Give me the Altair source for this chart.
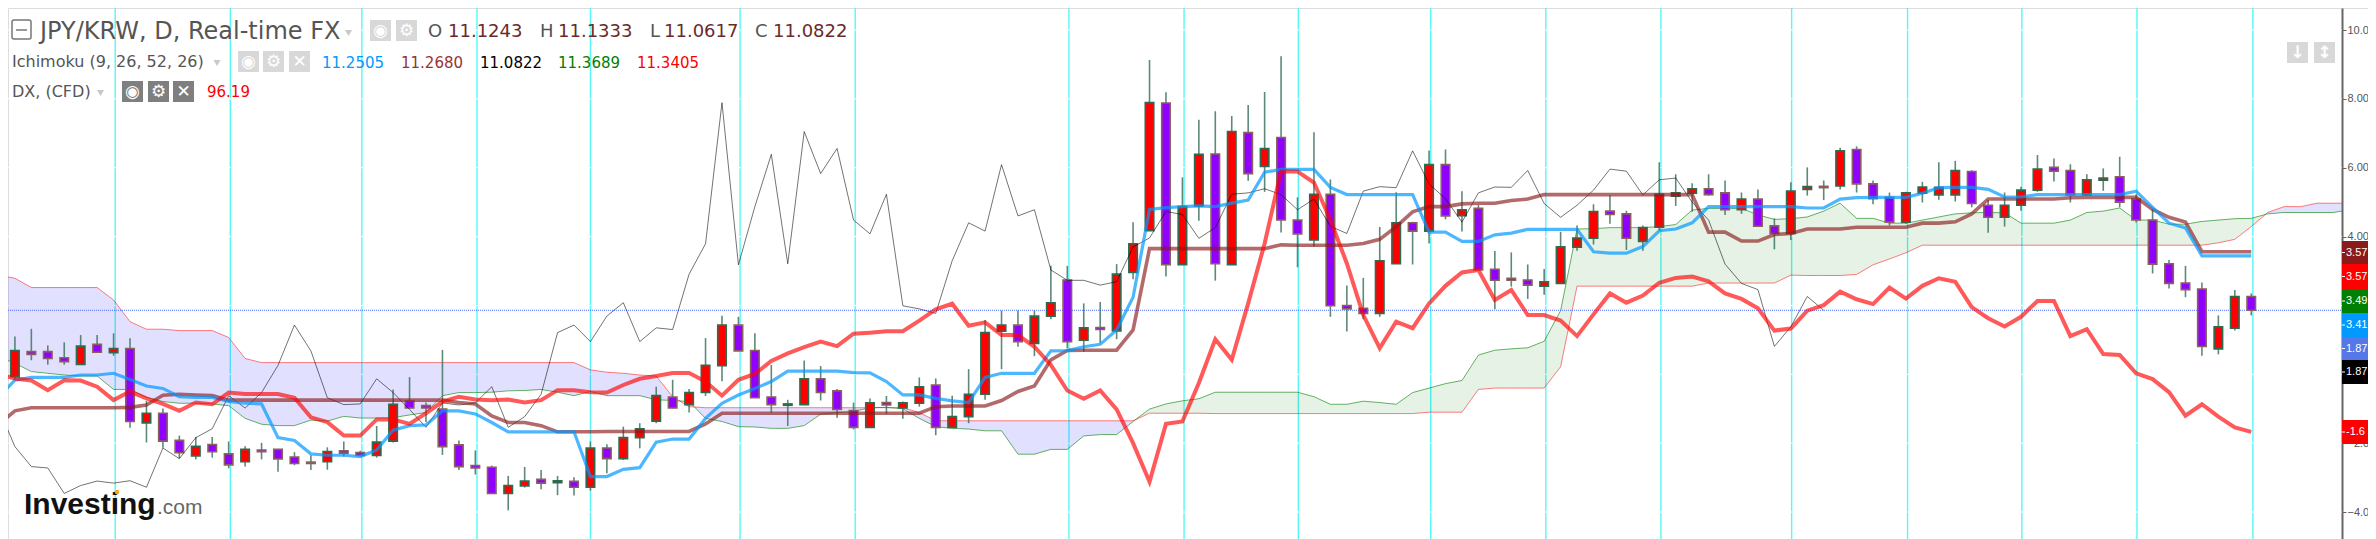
import altair as alt
import pandas as pd

OPEN = [-.07,.66,.66,.48,.29,.87,.63,.75,-1.41,-1.13,
 -1.92,-2.37,-2.04,-2.31,-2.54,-2.20,-2.18,-2.40,-2.55,-2.54,
 -2.22,-2.27,-2.36,-1.94,-.78,-.91,-1.01,-2.05,-2.65,-2.70,
 -3.46,-3.24,-3.05,-3.15,-3.11,-3.28,-2.14,-2.45,-1.84,-1.36,
 -.66,-.88,-.53,.25,1.43,.69,-.66,-.90,-.88,-.13,
 -.48,-1.05,-1.54,-.82,-.98,-.84,-.31,-1.54,-1.23,-.58,
 1.25,1.43,.90,1.69,2.74,.99,1.36,1.26,2.96,4.17,
 7.88,3.18,4.89,6.40,3.18,7.02,6.04,6.88,4.48,3.90,
 5.23,2.00,1.92,1.77,3.21,4.40,4.16,6.09,4.61,4.82,
 3.05,2.79,2.74,2.56,2.64,3.69,3.95,4.74,4.66,3.86,
 4.27,5.17,5.26,5.39,5.27,4.78,5.09,4.31,4.09,5.37,
 5.46,5.47,6.53,5.53,5.14,4.42,5.26,5.21,5.21,5.89,
 4.91,4.56,4.91,5.35,6.01,5.92,5.21,5.64,5.74,5.09,
 4.48,3.21,2.65,2.48,.74,1.34,2.26]
HIGH = [1.10,1.32,.84,.93,1.14,1.14,1.19,1.05,-.77,-.99,
 -1.78,-1.82,-1.82,-1.95,-2.09,-1.99,-2.18,-2.26,-2.35,-2.12,
 -1.95,-2.22,-1.50,-.44,-.08,-.82,.71,-1.92,-2.21,-2.65,
 -2.95,-2.69,-2.78,-2.95,-2.99,-1.95,-2.03,-1.52,-1.42,-.36,
 -.16,-.43,1.05,1.70,1.67,1.19,.27,-.74,.40,.24,
 -.43,-.82,-.70,-.63,-.79,-.09,-.12,-.62,.15,1.58,
 1.85,1.85,1.85,3.15,3.15,2.06,2.10,3.20,4.42,9.13,
 8.19,5.72,7.39,7.64,7.50,7.82,8.20,9.24,5.14,7.03,
 5.66,2.58,2.80,4.28,5.29,4.43,6.50,6.53,5.32,4.92,
 3.58,3.54,3.19,3.06,4.14,4.32,4.94,5.19,4.75,4.32,
 6.16,5.81,5.55,5.81,5.63,5.28,5.37,4.53,5.58,6.01,
 5.63,6.58,6.62,5.63,5.28,5.30,5.59,6.16,6.20,5.93,
 5.06,5.28,5.45,6.37,6.27,6.10,5.81,5.98,6.32,5.23,
 4.79,3.32,3.15,2.67,1.71,2.45,2.35]
LOW = [-.17,.41,.28,.28,.28,.63,.54,-1.55,-1.98,-2.13,
 -2.44,-2.47,-2.42,-2.73,-2.68,-2.47,-2.83,-2.64,-2.78,-2.77,
 -2.39,-2.39,-2.42,-1.98,-.99,-1.39,-2.34,-2.78,-2.91,-3.46,
 -3.95,-3.29,-3.34,-3.51,-3.52,-3.38,-2.87,-2.49,-2.15,-1.42,
 -.99,-1.11,-.63,-.20,.68,-.68,-1.11,-1.50,-.89,-.76,
 -1.26,-1.60,-1.54,-1.15,-1.29,-.94,-1.77,-1.54,-1.42,-.74,
 .15,.80,.53,1.60,.76,.66,.90,1.02,2.76,4.17,
 2.84,3.18,4.46,2.72,3.18,5.62,5.30,4.12,3.11,3.71,
 1.67,1.24,1.60,1.67,3.21,3.19,3.80,4.50,4.15,3.03,
 1.89,2.55,2.19,2.31,2.64,3.59,3.77,4.37,3.61,3.59,
 4.17,4.89,4.72,5.19,4.63,4.66,4.29,3.63,3.90,5.19,
 5.06,5.37,5.28,4.94,4.32,4.37,4.99,5.07,5.02,4.85,
 4.11,4.29,4.75,5.30,5.60,4.99,5.18,5.33,4.85,4.41,
 2.93,2.49,2.24,.54,.58,1.27,1.71]
CLOSE = [.69,.58,.46,.37,.82,.64,.75,-1.37,-1.13,-1.94,
 -2.28,-2.09,-2.25,-2.63,-2.18,-2.25,-2.46,-2.59,-2.59,-2.24,
 -2.29,-2.36,-1.97,-.87,-.98,-.98,-2.10,-2.68,-2.72,-3.46,
 -3.23,-3.10,-3.16,-3.09,-3.28,-2.14,-2.45,-1.84,-1.58,-.62,
 -.98,-.53,.26,1.43,.68,-.68,-.88,-.86,-.13,-.53,
 -1.02,-1.54,-.83,-.89,-.83,-.36,-1.54,-1.23,-.58,1.21,
 1.43,.95,1.69,2.08,.95,1.35,1.30,2.91,3.79,7.89,
 3.18,4.87,6.39,3.21,7.05,5.83,6.56,4.48,4.08,5.23,
 1.99,1.90,1.77,3.30,4.40,4.16,6.09,4.60,4.78,3.03,
 2.73,2.73,2.59,2.69,3.70,3.96,4.73,4.64,3.95,4.26,
 5.23,5.27,5.39,5.22,4.78,5.09,4.30,4.09,5.32,5.45,
 5.42,6.49,5.53,5.10,4.42,5.27,5.44,5.43,5.92,4.96,
 4.56,4.91,5.35,5.96,5.90,5.21,5.65,5.70,5.00,4.48,
 3.20,2.64,2.46,.81,1.38,2.26,1.86]

# lines start one session before the first candle
TENKAN = [-.67,
 -.17,-.09,-.09,-.09,-.02,-.02,.03,-.15,-.34,-.41,
 -.65,-.67,-.67,-.79,-.84,-.86,-1.84,-1.92,-2.31,-2.35,
 -2.35,-2.39,-2.20,-1.62,-1.49,-1.47,-1.06,-1.06,-1.15,-1.40,
 -1.67,-1.67,-1.67,-1.67,-1.67,-2.97,-2.97,-2.76,-2.71,-1.97,
 -1.88,-1.88,-1.28,-.84,-.60,-.41,-.21,.09,.09,.09,
 .09,.05,.04,-.21,-.60,-.60,-.70,-.77,-.82,-.09,
 .03,.03,.03,.68,.69,.80,.87,1.29,2.24,4.79,
 4.84,4.87,4.89,4.87,4.97,5.06,5.87,5.95,5.95,5.95,
 5.43,5.22,5.22,5.22,5.22,5.22,4.13,4.13,3.86,3.86,
 4.05,4.10,4.21,4.21,4.21,4.21,3.56,3.52,3.52,3.71,
 4.17,4.22,4.40,4.87,4.87,4.87,4.87,4.87,4.87,4.83,
 4.83,5.09,5.13,5.14,5.14,5.14,5.26,5.42,5.43,5.43,
 5.37,5.15,5.15,5.22,5.22,5.22,5.22,5.22,5.22,5.32,
 4.85,4.39,4.25,3.44,3.44,3.44,3.44]
KIJUN = [-1.47,
 -1.06,-.97,-.97,-.97,-.97,-.97,-.97,-.96,-.89,-.61,
 -.58,-.60,-.62,-.75,-.75,-.75,-.75,-.75,-.75,-.75,
 -.75,-.75,-.75,-.75,-.75,-.75,-.75,-.82,-.86,-1.21,
 -1.40,-1.40,-1.49,-1.67,-1.67,-1.67,-1.66,-1.66,-1.66,-1.66,
 -1.66,-1.66,-1.44,-1.13,-1.13,-1.13,-1.13,-1.13,-1.13,-1.13,
 -1.13,-1.13,-1.13,-1.13,-1.13,-1.13,-.94,-.92,-.92,-.92,
 -.76,-.50,-.34,.42,.69,.70,.70,.70,1.29,3.65,
 3.65,3.65,3.65,3.65,3.65,3.65,3.65,3.76,3.75,3.75,
 3.75,3.75,3.80,3.92,4.29,4.72,4.87,4.87,4.95,4.97,
 4.97,5.05,5.09,5.22,5.22,5.22,5.22,5.22,5.22,5.22,
 5.22,5.22,5.22,4.13,4.13,3.87,3.87,4.06,4.09,4.22,
 4.22,4.22,4.27,4.27,4.27,4.27,4.39,4.39,4.43,4.66,
 5.09,5.09,5.09,5.09,5.09,5.13,5.14,5.14,5.14,5.14,
 4.79,4.56,4.42,3.56,3.56,3.56,3.56]
DX = [.01,
 -.12,-.18,-.46,-.17,-.18,-.36,-.75,-.50,-.70,-.86,
 -1.06,-.82,-.87,-.53,-.57,-.57,-.57,-.68,-1.25,-1.39,
 -1.78,-1.78,-1.31,-1.31,-1.44,-1.13,-.79,-.65,-.73,-.75,
 -.73,-.82,-.75,-.46,-.46,-.52,-.53,-.31,-.13,-.05,
 .04,.04,-.21,-.62,-.16,.01,.39,.61,.79,.95,
 .82,1.18,1.21,1.25,1.25,1.56,1.89,2.05,1.41,1.51,
 1.14,1.14,.80,.27,-.47,-.71,-.47,-1.02,-2.00,-3.12,
 -1.44,-1.37,-.25,1.02,.42,2.06,3.80,5.90,5.89,5.57,
 4.48,3.22,1.72,.76,1.53,1.34,2.06,2.57,2.96,3.03,
 2.16,2.45,1.72,1.72,1.56,1.11,1.74,2.35,2.08,2.29,
 2.66,2.80,2.84,2.70,2.35,2.19,1.92,1.27,1.33,1.85,
 2.01,2.40,2.18,2.04,2.52,2.20,2.57,2.79,2.69,1.95,
 1.63,1.39,1.67,2.13,2.13,1.11,1.31,.59,.56,.03,
 -.14,-.52,-1.20,-.87,-1.23,-1.54,-1.67]
CHIKOU = [-.98,
 -2.10,-2.68,-2.72,-3.46,-3.23,-3.10,-3.16,-3.09,-3.28,-2.14,
 -2.45,-1.84,-1.58,-.62,-.98,-.53,.26,1.43,.68,-.68,
 -.88,-.86,-.13,-.53,-1.02,-1.54,-.83,-.89,-.83,-.36,
 -1.54,-1.23,-.58,1.21,1.43,.95,1.69,2.08,.95,1.35,
 1.30,2.91,3.79,7.89,3.18,4.87,6.39,3.21,7.05,5.83,
 6.56,4.48,4.08,5.23,1.99,1.90,1.77,3.30,4.40,4.16,
 6.09,4.60,4.78,3.03,2.73,2.73,2.59,2.69,3.70,3.96,
 4.73,4.64,3.95,4.26,5.23,5.27,5.39,5.22,4.78,5.09,
 4.30,4.09,5.32,5.45,5.42,6.49,5.53,5.10,4.42,5.27,
 5.44,5.43,5.92,4.96,4.56,4.91,5.35,5.96,5.90,5.21,
 5.65,5.70,5.00,4.48,3.20,2.64,2.46,.81,1.38,2.26,1.86]
SENKOU_B = [2.88,
 2.79,2.52,2.52,2.52,2.52,2.52,2.16,1.53,1.31,1.31,
 1.27,1.27,1.27,1.07,.46,.34,.34,.34,.34,.34,
 .34,.34,.34,.34,.34,.34,.34,.34,.34,.34,
 .34,.34,.34,.34,.34,.13,.06,.03,-.02,-.05,
 -.65,-.94,-.97,-.97,-.97,-.97,-.97,-.97,-.97,-.97,
 -.97,-.97,-.97,-.97,-.97,-1.11,-1.35,-1.35,-1.35,-1.35,
 -1.35,-1.35,-1.35,-1.35,-1.35,-1.35,-1.35,-1.35,-1.35,-1.13,
 -1.13,-1.13,-1.13,-1.14,-1.14,-1.14,-1.14,-1.14,-1.14,-1.14,
 -1.14,-1.14,-1.14,-1.14,-1.14,-1.14,-1.10,-1.10,-1.10,-.44,
 -.40,-.40,-.40,-.40,.22,2.56,2.56,2.56,2.56,2.56,
 2.56,2.56,2.56,2.65,2.65,2.65,2.65,2.65,2.88,2.87,
 2.87,2.87,2.90,3.18,3.35,3.53,3.75,3.75,3.75,3.75,
 3.75,3.75,3.75,3.75,3.75,3.75,3.75,3.75,3.75,3.75,
 3.75,3.75,3.75,3.75,3.82,3.92,4.29,4.70,4.87,4.87,
 4.97,4.97,4.97]
SENKOU_A = [.51,
 .32,.08,.03,-.02,-.05,-.05,-.44,-.44,-.67,-.79,
 -.84,-.84,-.86,-.91,-1.28,-1.45,-1.49,-1.49,-1.33,-1.36,
 -1.22,-1.27,-1.27,-1.26,-1.18,-1.11,-.62,-.53,-.53,-.52,
 -.48,-.47,-.44,-.52,-.62,-.50,-.62,-.62,-.62,-.74,
 -.76,-.79,-1.28,-1.37,-1.52,-1.53,-1.57,-1.57,-1.49,-1.16,
 -1.11,-1.08,-.97,-.96,-1.00,-1.28,-1.52,-1.57,-1.59,-1.64,
 -1.64,-2.32,-2.32,-2.18,-2.18,-1.79,-1.75,-1.75,-1.37,-1.01,
 -.86,-.77,-.71,-.52,-.52,-.52,-.52,-.52,-.52,-.65,
 -.87,-.87,-.78,-.82,-.87,-.53,-.40,-.27,-.18,.56,
 .70,.74,.77,.96,1.85,4.22,4.23,4.26,4.26,4.26,
 4.29,4.35,4.77,4.82,4.82,4.82,4.63,4.50,4.52,4.57,
 4.74,4.97,4.53,4.53,4.39,4.39,4.48,4.57,4.66,4.69,
 4.70,4.69,4.39,4.39,4.39,4.48,4.70,4.74,4.83,4.48,
 4.48,4.36,4.36,4.44,4.48,4.52,4.53,4.66,4.70,4.70,
 4.70,4.70,4.74]
SESSION_MARKS = [6.1,13.1,21.1,28.1,35.0,44.1,51.1,64.1,71.1,78.05,86.1,93.1,100.1,108.05,115.1,122.05,129.05,136.1]
TICKS = [10,8,6,4,2,0,-2,-4]
VISIBLE_TICKS = [10,8,6,4,-2,-4]  # 2 and 0 sit behind the price tags
LAST_CLOSE = 1.86
PLOT_END = 141.5

xs = alt.Scale(domain=[-0.42, 143.10], nice=False, zero=False, padding=0)
ys = alt.Scale(domain=[-4.783, 10.639], nice=False, zero=False, padding=0)
AX = alt.Axis(
    orient="right", offset=-26, values=VISIBLE_TICKS, title=None, grid=False,
    labelExpr="slice(format(datum.value, '.2f'), 0, 4)",
    domainColor="#666666", domainWidth=2, tickColor="#666666", tickSize=4, tickWidth=1,
    labelFont="Liberation Sans", labelFontSize=11, labelColor="#555555", labelPadding=1,
    labelOverlap=False, labelFlush=False)
X = alt.X("x:Q", scale=xs, axis=None)
Y = alt.Y("y:Q", scale=ys, axis=AX)


def series(vals):
    idx = list(range(-1, len(vals) - 1))
    if len(vals) > 143:
        idx[-1] = PLOT_END
    return pd.DataFrame({"x": idx, "y": vals})


def line(vals, color, width, op):
    return alt.Chart(series(vals)).mark_line(color=color, strokeWidth=width, opacity=op, clip=True).encode(x=X, y=Y)


# candles
cd = pd.DataFrame({"x": list(range(len(OPEN))), "o": OPEN, "h": HIGH, "l": LOW, "c": CLOSE})
cd["kind"] = ["up" if c >= o else "down" for o, c in zip(OPEN, CLOSE)]
wicks = alt.Chart(cd).mark_rule(color="#3f7460", strokeWidth=1.6, opacity=0.85).encode(
    x=X, y=alt.Y("h:Q", scale=ys, axis=AX), y2="l:Q")
bodies = alt.Chart(cd).mark_bar(size=8.5, strokeWidth=1.6).encode(
    x=X, y=alt.Y("o:Q", scale=ys, axis=AX), y2="c:Q",
    fill=alt.Fill("kind:N", scale=alt.Scale(domain=["up", "down"], range=["#ff0000", "#8f00ff"]), legend=None),
    stroke=alt.Stroke("kind:N", scale=alt.Scale(domain=["up", "down"], range=["#2f6b50", "#8c5f5f"]), legend=None))

# cloud, with the crossings of the two spans added so each fill closes on them
cx, ca, cb = [], [], []
sx = series(SENKOU_A)["x"].tolist()
for k in range(len(sx)):
    cx.append(sx[k]); ca.append(SENKOU_A[k]); cb.append(SENKOU_B[k])
    if k + 1 < len(sx):
        d0 = SENKOU_A[k] - SENKOU_B[k]
        d1 = SENKOU_A[k + 1] - SENKOU_B[k + 1]
        if d0 * d1 < 0:
            t = d0 / (d0 - d1)
            cx.append(sx[k] + t * (sx[k + 1] - sx[k]))
            v = SENKOU_A[k] + t * (SENKOU_A[k + 1] - SENKOU_A[k])
            ca.append(v); cb.append(v)
cloud = pd.DataFrame({"x": cx, "a": ca, "b": cb})
cloud["lo"] = cloud[["a", "b"]].min(axis=1)
cloud_b = alt.Chart(cloud).mark_area(color="#3333ff", opacity=0.15, clip=True).encode(
    x=X, y=alt.Y("b:Q", scale=ys, axis=AX), y2="lo:Q")
cloud_a = alt.Chart(cloud).mark_area(color="#008000", opacity=0.1, clip=True).encode(
    x=X, y=alt.Y("a:Q", scale=ys, axis=AX), y2="lo:Q")

cyan = alt.Chart(pd.DataFrame({"x": SESSION_MARKS})).mark_rule(color="#55f7f7", strokeWidth=1.4).encode(x=X)
white = alt.Chart(pd.DataFrame({"y": TICKS, "x": [-0.42] * 8, "x2": [PLOT_END] * 8})).mark_rule(
    color="#ffffff", strokeWidth=1).encode(x=X, x2="x2:Q", y=Y)
dotted = alt.Chart(pd.DataFrame({"y": [LAST_CLOSE], "x": [-0.42], "x2": [PLOT_END]})).mark_rule(
    color="#4f6cff", strokeWidth=1, strokeDash=[1, 1]).encode(x=X, x2="x2:Q", y=Y)

ONE = pd.DataFrame({"a": [0]})


def txt(s, x, y, size, color, font="DejaVu Sans", **kw):
    return alt.Chart(ONE).mark_text(text=s, font=font, fontSize=size, color=color, align="left",
                                    baseline=kw.pop("baseline", "middle"), **kw).encode(
        x=alt.value(x - 8), y=alt.value(y - 8))


def box(x0, x1, y0, y1, color, **kw):
    return alt.Chart(ONE).mark_rect(color=color, **kw).encode(
        x=alt.value(x0 - 8), x2=alt.value(x1 - 8), y=alt.value(y0 - 8), y2=alt.value(y1 - 8))


def icon(x0, y0, glyph, color, size=17):
    return [box(x0, x0 + 21, y0, y0 + 21, color),
            alt.Chart(ONE).mark_text(text=glyph, font="DejaVu Sans", fontSize=size, color="#ffffff",
                                     fontWeight="bold", align="center", baseline="middle").encode(
                x=alt.value(x0 + 10.5 - 8), y=alt.value(y0 + 10.5 - 8))]


def caret(x, y):
    return alt.Chart(ONE).mark_point(shape="triangle-down", filled=True, size=50, color="#c8c8c8", opacity=1).encode(
        x=alt.value(x - 8), y=alt.value(y - 8))


LT, DK = "#d8d8d8", "#7f7f7f"
OHLC = "#6b2a2a"
deco = [
    alt.Chart(ONE).mark_rect(fill="#ffffff", stroke="#777777", strokeWidth=1.5, cornerRadius=2).encode(
        x=alt.value(4), x2=alt.value(23), y=alt.value(12), y2=alt.value(31)),
    alt.Chart(ONE).mark_rule(color="#777777", strokeWidth=1.5).encode(
        x=alt.value(8), x2=alt.value(19), y=alt.value(22)),
    txt("JPY/KRW, D, Real-time FX", 40, 32, 24, "#555555"),
    caret(348.5, 33),
    *icon(370, 20, "◉", LT), *icon(396, 20, "⚙", LT),
    txt("O", 428, 32, 18, "#555555"), txt("11.1243", 448, 32, 18, OHLC),
    txt("H", 540, 32, 18, "#555555"), txt("11.1333", 558, 32, 18, OHLC),
    txt("L", 650, 32, 18, "#555555"), txt("11.0617", 664, 32, 18, OHLC),
    txt("C", 755, 32, 18, "#555555"), txt("11.0822", 773, 32, 18, OHLC),
    txt("Ichimoku (9, 26, 52, 26)", 12, 62, 16, "#555555"),
    caret(217, 63),
    *icon(238, 51, "◉", LT), *icon(263, 51, "⚙", LT), *icon(289, 51, "✕", LT),
    txt("11.2505", 322, 63, 15, "#0099ff"), txt("11.2680", 401, 63, 15, "#993333"),
    txt("11.0822", 480, 63, 15, "#000000"), txt("11.3689", 558, 63, 15, "#008000"),
    txt("11.3405", 637, 63, 15, "#ff0000"),
    txt("DX, (CFD)", 12, 92, 16, "#555555"),
    caret(100.5, 93),
    *icon(122, 81, "◉", DK), *icon(148, 81, "⚙", DK), *icon(173, 81, "✕", DK),
    txt("96.19", 207, 92, 15, "#ff0000"),
    *icon(2287, 42, "↓", LT), *icon(2314, 42, "↕", LT),
    txt("Investing", 24, 514, 30, "#111111", font="Liberation Sans", fontWeight="bold", baseline="alphabetic"),
    txt(".com", 157, 514, 21, "#666666", font="Liberation Sans", baseline="alphabetic"),
    alt.Chart(ONE).mark_circle(color="#f5a623", size=20, opacity=1).encode(x=alt.value(109), y=alt.value(484)),
]

LABELS = [("3.57", "#8b1a1a", 241, 264), ("3.57", "#ff0000", 264, 289), ("3.49", "#008000", 289, 313),
          ("3.41", "#0099ff", 313, 337), ("1.87", "#5577e8", 337, 360), ("1.87", "#000000", 360, 384),
          ("-1.6", "#ff0000", 420, 444)]
tags = []
for s, c, y0, y1 in LABELS:
    tags.append(box(2342, 2368, y0, y1, c))
    tags.append(alt.Chart(ONE).mark_rule(color="#ffffff", strokeWidth=1).encode(
        x=alt.value(2342 - 8), x2=alt.value(2345 - 8), y=alt.value((y0 + y1) / 2 - 8)))
    tags.append(txt(s, 2346, (y0 + y1) / 2, 11, "#ffffff", font="Liberation Sans"))

chart = alt.layer(
    cyan, white, cloud_b, cloud_a,
    line(SENKOU_A, "#008000", 1, 0.6), line(SENKOU_B, "#ff0000", 1, 0.5),
    dotted, wicks, bodies,
    line(CHIKOU, "#000000", 1, 0.55),
    line(KIJUN, "#8b1a1a", 3.6, 0.65),
    line(TENKAN, "#0099ff", 3.2, 0.7),
    line(DX, "#ff0000", 4, 0.65),
    *deco, *tags,
).properties(
    width=2360, height=531, padding=0,
    autosize=alt.AutoSizeParams(type="none"),
).configure_view(stroke=None).configure(background="#ffffff")

chart.save("out.html", embed_options={"renderer": "svg", "actions": False})
